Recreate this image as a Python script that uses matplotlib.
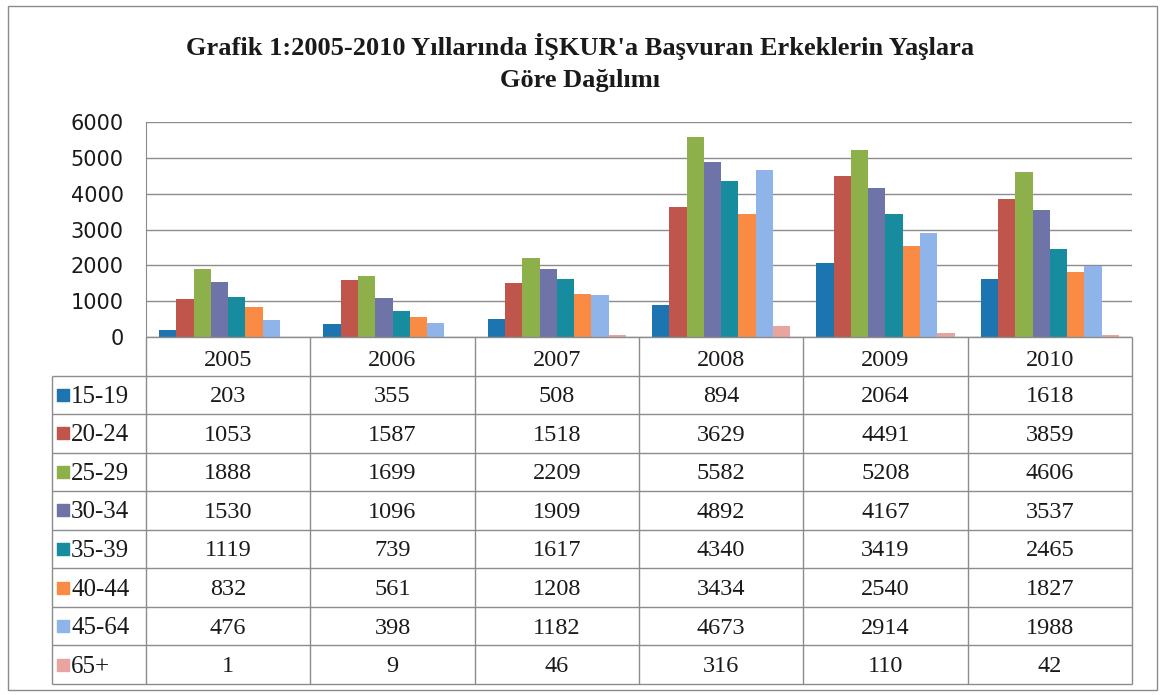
import matplotlib.pyplot as plt
from matplotlib.patches import Rectangle
import numpy as np

# ---- data ----
years = ["2005", "2006", "2007", "2008", "2009", "2010"]
age_groups = ["15-19", "20-24", "25-29", "30-34", "35-39", "40-44", "45-64", "65+"]
v_15_19 = [203, 355, 508, 894, 2064, 1618]
v_20_24 = [1053, 1587, 1518, 3629, 4491, 3859]
v_25_29 = [1888, 1699, 2209, 5582, 5208, 4606]
v_30_34 = [1530, 1096, 1909, 4892, 4167, 3537]
v_35_39 = [1119, 739, 1617, 4340, 3419, 2465]
v_40_44 = [832, 561, 1208, 3434, 2540, 1827]
v_45_64 = [476, 398, 1182, 4673, 2914, 1988]
v_65 = [1, 9, 46, 316, 110, 42]
series = [v_15_19, v_20_24, v_25_29, v_30_34, v_35_39, v_40_44, v_45_64, v_65]
colors = ["#1C75B0", "#C0564B", "#8DB04A", "#6E74A8",
          "#168C9E", "#F98B45", "#8FB4EA", "#E8A5A0"]
yticks = [0, 1000, 2000, 3000, 4000, 5000, 6000]

W, H = 1160, 695
txt = "#1a1a1a"
fig = plt.figure(figsize=(W / 100, H / 100), dpi=100)
fig.patch.set_facecolor("white")

# outer chart border
fig.add_artist(Rectangle((8 / W, 1 - 690 / H), (1157 - 8) / W, (690 - 6) / H,
                         transform=fig.transFigure, fill=False,
                         edgecolor="#8a8a8a", linewidth=1.0))

# title
fig.text(0.5, 1 - 46 / H, "Grafik 1:2005-2010 Yıllarında İŞKUR'a Başvuran Erkeklerin Yaşlara",
         ha="center", va="center", family="Liberation Serif", fontweight="bold",
         fontsize=19, color=txt)
fig.text(0.5, 1 - 81 / H, "Göre Dağılımı",
         ha="center", va="center", family="Liberation Serif", fontweight="bold",
         fontsize=19, color=txt)

# ---- bar plot ----
ax = fig.add_axes([146 / W, 1 - 337 / H, (1132 - 146) / W, (337 - 122) / H])
x = np.arange(len(years))
bw = 0.105
for i, (vals, c) in enumerate(zip(series, colors)):
    ax.bar(x + (i - 3.5) * bw, vals, width=bw, color=c, zorder=3)

ax.set_xlim(-0.5, 5.5)
ax.set_ylim(0, 6000)
ax.set_yticks(yticks)
ax.set_yticklabels([str(t) for t in yticks], fontsize=15, color=txt)
ax.set_xticks([])
ax.tick_params(axis="y", length=0, pad=16)
ax.grid(axis="y", color="#8c8c8c", linewidth=1.0, zorder=0)
for s in ["top", "right", "bottom"]:
    ax.spines[s].set_visible(False)
ax.spines["left"].set_color("#8c8c8c")

# ---- data table ----
tax = fig.add_axes([146 / W, 1 - 684 / H, (1132 - 146) / W, (684 - 337) / H])
tax.set_xlim(-0.5, 5.5)
tax.set_ylim(9, 0)
tax.axis("off")

lc = "#8c8c8c"
legend_left = -0.5 - (146 - 52) / (986 / 6)
tax.hlines(0, -0.5, 5.5, color=lc, lw=1.0, clip_on=False)
tax.hlines(np.arange(1, 10), legend_left, 5.5, color=lc, lw=1.0, clip_on=False)
tax.vlines(np.arange(-0.5, 6.0, 1.0), 0, 9, color=lc, lw=1.0, clip_on=False)
tax.vlines(legend_left, 1, 9, color=lc, lw=1.0, clip_on=False)

for j, yr in enumerate(years):
    tax.text(j, 0.6, yr, ha="center", va="center", family="Liberation Serif",
             fontsize=17.5, color=txt)

mk_x = -0.5 - (146 - 63) / (986 / 6)
lab_x = -0.5 - (146 - 71) / (986 / 6)
for i, (name, vals, c) in enumerate(zip(age_groups, series, colors)):
    row = i + 1.5
    tax.scatter([mk_x], [row], marker="s", s=85, color=c, clip_on=False)
    tax.text(lab_x, row + 0.05, name, ha="left", va="center", family="Liberation Serif",
             fontsize=18, color=txt, clip_on=False)
    for j, v in enumerate(vals):
        tax.text(j, row + 0.05, str(v), ha="center", va="center",
                 family="Liberation Serif", fontsize=17.5, color=txt)

plt.savefig("out.png", dpi=100)
